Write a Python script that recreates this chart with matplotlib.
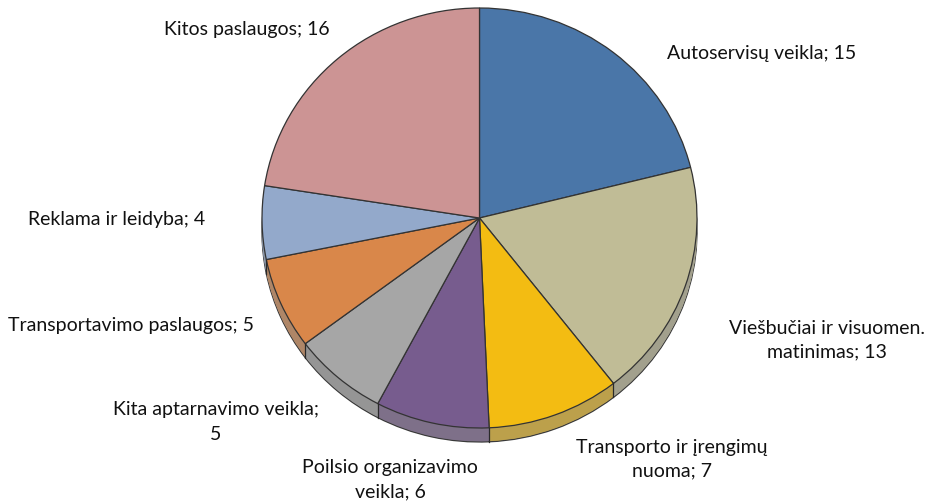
import numpy as np
import matplotlib
matplotlib.use("Agg")
import matplotlib.pyplot as plt
from matplotlib.colors import to_rgb

# slices, clockwise from 12 o'clock
labels = ['Autoservisų veikla; 15', 'Viešbučiai ir visuomen.\nmatinimas; 13',
          'Transporto ir įrengimų\nnuoma; 7', 'Poilsio organizavimo\nveikla; 6',
          'Kita aptarnavimo veikla;\n5', 'Transportavimo paslaugos; 5',
          'Reklama ir leidyba; 4', 'Kitos paslaugos; 16']
values = [15, 13, 7, 6, 5, 5, 4, 16]
colors = ['#4A76A8', '#C0BC96', '#F3BC12', '#775C8E',
          '#A6A6A6', '#D9874A', '#93A9CB', '#CC9494']

# label centres in pixels (x, y from top)
label_pos = [(762, 54), (827, 340), (672, 459), (390, 480),
             (216, 422), (131, 325), (117, 220), (247, 30)]

W, H = 928, 504
cx, cy = 479.5, 218      # pie centre in px
rx, ry = 217.5, 210      # radii in px
depth = 14 / ry

plt.rcParams['font.family'] = ['Lato', 'DejaVu Sans']

fig = plt.figure(figsize=(W / 100, H / 100), dpi=100)
ax = fig.add_axes([0, 0, 1, 1])


def side_col(c):
    r = np.array(to_rgb(c))
    return tuple(0.5 * r + 0.5 * 0.52)


# side band: stacked pies shifted down
sides = [side_col(c) for c in colors]
ax.pie(values, colors=sides, startangle=90, counterclock=False,
       center=(0, -depth), radius=1,
       wedgeprops=dict(linewidth=0.9, edgecolor='#3a3a3a'))
for d in np.linspace(depth - 0.004, 0.004, 16):
    ax.pie(values, colors=sides, startangle=90, counterclock=False,
           center=(0, -d), radius=1, wedgeprops=dict(linewidth=0))

# vertical seams on the visible front side
ang = 90 - 360 * np.cumsum([0] + values[:-1]) / sum(values)
for a in ang:
    t = np.deg2rad(a)
    if np.sin(t) < 0:
        ax.plot([np.cos(t)] * 2, [np.sin(t), np.sin(t) - depth],
                color='#2a2a2a', lw=0.9)

# top face
ax.pie(values, colors=colors, startangle=90, counterclock=False,
       center=(0, 0), radius=1,
       wedgeprops=dict(linewidth=0.9, edgecolor='#333333'))

ax.set_aspect('auto')
ax.set_xlim(-cx / rx, (W - cx) / rx)
ax.set_ylim(-(H - cy) / ry, cy / ry)
ax.axis('off')

for lab, (px, py) in zip(labels, label_pos):
    fig.text(px / W, 1 - py / H, lab, ha='center', va='center',
             fontsize=14, color='#111111', linespacing=1.5)

fig.savefig('out.png', dpi=100)
